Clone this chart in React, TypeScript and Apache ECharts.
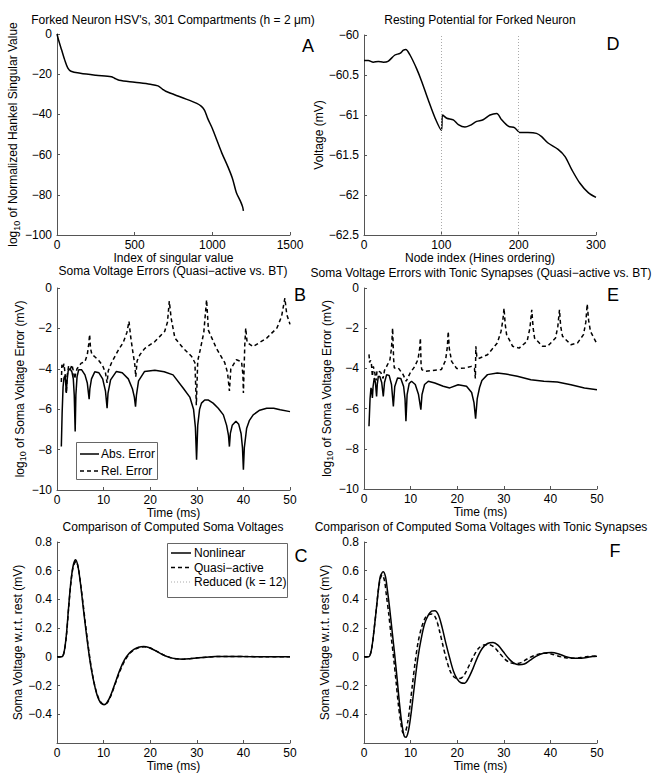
import React, { useEffect, useRef } from "react";
import * as echarts from "echarts";

// ---------- DATA ----------
// Panel A: log10 normalized Hankel singular values
const hsvA: number[][] = [
  [0, 0], [10, -3], [30, -8], [50, -13], [70, -17], [90, -18.5], [150, -19.5], [250, -20.5],
  [350, -21.3], [370, -22], [400, -23], [500, -24], [600, -25], [650, -25.8], [680, -27.5],
  [700, -28.5], [800, -31.5], [900, -34.5], [930, -36], [950, -38], [970, -42], [1000, -47],
  [1030, -53], [1060, -59], [1100, -66], [1130, -72], [1155, -79], [1180, -83], [1195, -86], [1200, -88],
];
// Panel D: resting potential
const restD: number[][] = [
  [0, -60.32], [5.6, -60.32], [12, -60.34], [18.5, -60.33], [25, -60.34], [31, -60.33], [40, -60.25],
  [46.5, -60.23], [51, -60.19], [54, -60.18], [59.5, -60.25], [68, -60.42], [74.6, -60.58], [83, -60.81],
  [92, -61.04], [100, -61.19], [101.7, -61.0], [107, -61.04], [115.5, -61.06], [122, -61.12],
  [130.6, -61.15], [137, -61.13], [145.7, -61.08], [154, -61.06], [163, -61.0], [171.6, -60.98],
  [178, -61.06], [186.6, -61.14], [195, -61.16], [201.7, -61.22], [212, -61.22], [223, -61.23],
  [229.7, -61.27], [238, -61.35], [251, -61.43], [260, -61.52], [268.5, -61.68], [279, -61.85],
  [290, -61.97], [300, -62.03],
];
const dGridLines = [100, 200];
// Panel B: soma voltage errors
const absErrB: number[][] = [
  [0.93, -7.85], [1.1, -6.2], [1.3, -4.9], [1.5, -4.45], [1.7, -4.35], [1.85, -4.6], [2.0, -5.2], [2.15, -4.6],
  [2.4, -4.1], [2.8, -4.0], [3.2, -4.15], [3.5, -4.5], [3.7, -5.3], [3.9, -7.1], [4.05, -5.3], [4.3, -4.4],
  [4.65, -4.05], [5.3, -4.05], [6.0, -4.3], [6.5, -4.7], [6.75, -5.2], [6.9, -5.5], [7.05, -5.0], [7.4, -4.5],
  [8.1, -4.15], [9.0, -4.2], [9.8, -4.5], [10.4, -5.1], [10.75, -5.95], [10.95, -5.2], [11.5, -4.55],
  [12.75, -4.13], [14, -4.2], [15.3, -4.5], [16.2, -5.0], [16.6, -5.4], [16.85, -5.87], [17.05, -5.3],
  [17.5, -4.6], [18.8, -4.13], [21, -4.07], [23, -4.15], [24.9, -4.3], [27.1, -4.96], [28.5, -5.4],
  [29.3, -6.0], [29.7, -6.9], [29.95, -8.5], [30.2, -6.8], [30.6, -6.0], [31.0, -5.7], [31.7, -5.54],
  [32.5, -5.55], [33.5, -5.7], [34.6, -5.95], [35.7, -6.28], [36.4, -6.8], [36.8, -7.3], [37.0, -7.85],
  [37.2, -7.2], [37.6, -6.8], [38.4, -6.6], [39.0, -6.75], [39.5, -7.2], [39.8, -7.9], [40.0, -9.0],
  [40.2, -7.9], [40.7, -6.94], [41.3, -6.55], [42.1, -6.28], [43.5, -6.05], [45, -5.95], [46.5, -5.95],
  [47.9, -6.03], [50, -6.12],
];
const relErrB: number[][] = [
  [0.93, -4.65], [1.05, -3.8], [1.3, -3.95], [1.5, -3.75], [1.8, -4.4], [2.0, -5.2], [2.2, -4.3], [2.5, -3.85],
  [2.9, -4.0], [3.2, -3.8], [3.5, -4.1], [3.8, -4.5], [3.95, -4.3], [4.3, -4.0], [5.2, -3.72], [6.0, -3.65],
  [6.5, -3.3], [6.8, -2.8], [7.0, -2.3], [7.2, -3.0], [7.5, -3.3], [8.1, -3.4], [9.0, -3.6], [9.8, -3.85],
  [10.4, -4.2], [10.75, -4.7], [11.0, -4.1], [11.7, -3.7], [13.1, -3.1], [14.2, -2.7], [15.0, -2.2],
  [15.45, -1.65], [15.8, -2.4], [16.3, -3.2], [16.7, -3.8], [16.9, -4.4], [17.2, -3.6], [17.8, -3.3],
  [18.8, -3.0], [21, -2.65], [23.1, -2.15], [23.7, -1.7], [24.1, -0.65], [24.5, -1.5], [25.3, -2.48],
  [27.1, -2.98], [28.9, -3.39], [29.6, -3.7], [29.9, -5.8], [30.2, -3.6], [30.7, -3.1], [31.5, -2.2],
  [32.1, -0.58], [32.5, -2.1], [34.2, -2.98], [36.0, -3.7], [36.6, -4.2], [37.0, -5.1], [37.3, -4.0],
  [38.5, -3.55], [39.6, -3.65], [39.9, -4.3], [40.0, -5.2], [40.3, -2.8], [40.5, -1.98], [40.8, -2.7],
  [42.1, -2.9], [45, -2.48], [47.2, -1.98], [48.2, -1.4], [48.9, -0.5], [49.3, -1.3], [50, -1.8],
];
// Panel E: errors with tonic synapses
const absErrE: number[][] = [
  [1.07, -6.88], [1.3, -5.5], [1.5, -4.97], [1.65, -5.1], [1.8, -5.47], [1.95, -4.9], [2.2, -4.48], [2.45, -4.7],
  [2.7, -5.39], [2.85, -4.8], [3.07, -4.4], [3.4, -4.4], [3.8, -4.7], [4.14, -5.39], [4.4, -4.7], [4.86, -4.31],
  [5.4, -4.35], [5.9, -4.8], [6.3, -5.89], [6.6, -4.9], [7.2, -4.48], [7.9, -4.5], [8.5, -4.9], [8.8, -5.5],
  [9.0, -6.63], [9.25, -5.3], [9.7, -4.75], [10.2, -4.64], [11.0, -4.8], [11.7, -5.3], [12.2, -6.05],
  [12.45, -5.3], [13.0, -4.8], [13.8, -4.64], [15.2, -4.73], [17, -4.89], [18.4, -4.97], [20.2, -4.81],
  [22, -4.89], [23.1, -5.2], [23.6, -5.7], [23.95, -6.5], [24.3, -5.5], [24.8, -4.95], [25.3, -4.6],
  [26.5, -4.31], [28.6, -4.23], [30.4, -4.28], [32.9, -4.39], [35.8, -4.56], [38.6, -4.64], [41.5, -4.68],
  [44.4, -4.81], [47.3, -4.97], [50, -5.06],
];
const relErrE: number[][] = [
  [1.07, -3.3], [1.2, -3.7], [1.4, -3.6], [1.6, -3.8], [1.8, -4.4], [2.0, -3.9], [2.3, -4.2], [2.6, -4.6],
  [2.8, -4.1], [3.2, -4.15], [3.6, -4.2], [4.1, -4.5], [4.4, -4.1], [4.86, -3.9], [5.57, -3.57], [5.9, -3.0],
  [6.14, -1.99], [6.35, -3.5], [6.5, -3.98], [7.36, -3.98], [8.4, -4.31], [9.05, -4.64], [9.9, -4.23],
  [10.9, -3.9], [11.6, -3.55], [11.95, -3.0], [12.1, -2.49], [12.25, -3.8], [12.4, -4.06], [13.1, -4.15],
  [14.5, -4.11], [16.6, -4.06], [17.5, -3.6], [17.9, -2.9], [18.07, -2.16], [18.3, -3.0], [18.8, -3.65],
  [19.9, -4.01], [21.6, -3.98], [23.1, -3.9], [23.7, -4.0], [23.9, -4.5], [24.0, -2.9], [24.2, -3.4],
  [24.5, -3.52], [26.5, -3.32], [28.6, -2.74], [29.4, -2.16], [29.8, -1.6], [30.05, -1.0], [30.3, -1.8],
  [30.6, -2.32], [31.9, -2.9], [33.3, -2.99], [35, -2.65], [35.6, -2.0], [36.0, -1.08], [36.3, -2.0],
  [36.6, -2.49], [38.3, -2.9], [39.4, -2.9], [41.1, -2.49], [41.6, -1.9], [41.95, -1.08], [42.2, -1.9],
  [42.6, -2.4], [44.4, -2.82], [45.8, -2.74], [47.1, -2.32], [47.6, -1.7], [47.9, -0.8], [48.2, -1.6],
  [48.6, -2.16], [50, -2.79],
];
// Panel C: computed soma voltages
const nonlinC: number[][] = [
  [0, 0], [1.0, 0], [1.5, 0.03], [2.0, 0.15], [2.5, 0.35], [3.0, 0.53], [3.5, 0.64], [4.0, 0.677],
  [4.5, 0.63], [5.0, 0.52], [5.5, 0.38], [6.0, 0.24], [6.5, 0.11], [7.0, -0.01], [7.5, -0.11], [8.0, -0.19],
  [8.5, -0.255], [9.0, -0.3], [9.5, -0.325], [10.1, -0.333], [10.7, -0.32], [11.5, -0.27], [12.5, -0.18],
  [13.5, -0.09], [14.5, -0.02], [15.5, 0.025], [16.5, 0.052], [17.5, 0.067], [18.6, 0.072], [19.7, 0.065],
  [21, 0.045], [22.5, 0.018], [24, -0.002], [25.5, -0.013], [27, -0.016], [28.5, -0.013], [30, -0.008],
  [32, -0.002], [34, 0.002], [37, 0.003], [40, 0.002], [45, 0.001], [50, 0],
];
const quasiC: number[][] = [
  [0, 0], [1.0, 0], [1.5, 0.03], [2.0, 0.14], [2.5, 0.34], [3.0, 0.52], [3.5, 0.63], [4.1, 0.665],
  [4.6, 0.615], [5.1, 0.5], [5.6, 0.37], [6.1, 0.23], [6.6, 0.1], [7.1, -0.02], [7.6, -0.12], [8.1, -0.2],
  [8.6, -0.26], [9.1, -0.3], [9.7, -0.325], [10.3, -0.33], [10.9, -0.315], [11.7, -0.26], [12.7, -0.17],
  [13.7, -0.085], [14.7, -0.018], [15.7, 0.027], [16.7, 0.052], [17.7, 0.066], [18.8, 0.07], [19.9, 0.063],
  [21.2, 0.043], [22.7, 0.016], [24.2, -0.004], [25.7, -0.014], [27.2, -0.016], [28.7, -0.012],
  [30.2, -0.007], [32, -0.002], [34, 0.002], [37, 0.003], [40, 0.002], [45, 0.001], [50, 0],
];
const reducedC: number[][] = [
  [0, 0], [1.0, 0], [1.5, 0.03], [2.0, 0.14], [2.5, 0.34], [3.0, 0.52], [3.5, 0.63], [4.1, 0.664],
  [4.6, 0.614], [5.1, 0.5], [5.6, 0.37], [6.1, 0.23], [6.6, 0.1], [7.1, -0.02], [7.6, -0.12], [8.1, -0.2],
  [8.6, -0.26], [9.1, -0.3], [9.7, -0.324], [10.3, -0.329], [10.9, -0.314], [11.7, -0.26], [12.7, -0.17],
  [13.7, -0.085], [14.7, -0.018], [15.7, 0.027], [16.7, 0.052], [17.7, 0.066], [18.8, 0.07], [19.9, 0.063],
  [21.2, 0.043], [22.7, 0.016], [24.2, -0.004], [25.7, -0.014], [27.2, -0.016], [28.7, -0.012],
  [30.2, -0.007], [32, -0.002], [34, 0.002], [37, 0.003], [40, 0.002], [45, 0.001], [50, 0],
];
// Panel F: computed soma voltages with tonic synapses
const nonlinF: number[][] = [
  [0, 0], [1.0, 0], [1.6, 0.05], [2.2, 0.2], [2.7, 0.35], [3.1, 0.47], [3.5, 0.56], [4.1, 0.592], [4.6, 0.56],
  [5.0, 0.47], [5.5, 0.34], [6.0, 0.19], [6.6, 0.01], [7.1, -0.15], [7.6, -0.32], [8.1, -0.46], [8.6, -0.55],
  [9.0, -0.56], [9.5, -0.52], [10.0, -0.42], [10.5, -0.29], [11.0, -0.15], [11.6, 0.0], [12.3, 0.13],
  [13.0, 0.23], [13.8, 0.29], [14.5, 0.318], [15.2, 0.322], [16.0, 0.29], [16.8, 0.2], [17.6, 0.09],
  [18.4, -0.01], [19.2, -0.1], [20.0, -0.155], [20.8, -0.18], [21.6, -0.183], [22.4, -0.15], [23.4, -0.08],
  [24.4, 0.0], [25.4, 0.06], [26.5, 0.093], [27.7, 0.1], [28.8, 0.08], [29.9, 0.035], [31, -0.01],
  [32, -0.04], [33.2, -0.055], [34.4, -0.05], [35.6, -0.025], [37, 0.005], [38.5, 0.025], [40.2, 0.03],
  [41.8, 0.02], [43.2, 0.003], [44.6, -0.008], [46, -0.01], [47.5, -0.006], [49, 0.002], [50, 0.005],
];
const quasiF: number[][] = [
  [0, 0], [1.0, 0], [1.6, 0.05], [2.2, 0.2], [2.7, 0.35], [3.1, 0.47], [3.5, 0.545], [3.9, 0.57], [4.4, 0.53],
  [4.8, 0.43], [5.3, 0.3], [5.8, 0.15], [6.4, -0.02], [6.9, -0.18], [7.4, -0.34], [7.9, -0.46], [8.4, -0.53],
  [8.9, -0.52], [9.4, -0.45], [9.9, -0.33], [10.4, -0.19], [11.0, -0.03], [11.6, 0.1], [12.3, 0.2],
  [13.1, 0.27], [13.9, 0.295], [14.6, 0.298], [15.4, 0.27], [16.2, 0.18], [17.0, 0.07], [17.7, -0.02],
  [18.5, -0.1], [19.3, -0.14], [20.2, -0.152], [21.0, -0.145], [21.8, -0.11], [22.7, -0.05], [23.6, 0.01],
  [24.6, 0.06], [25.7, 0.083], [26.9, 0.085], [28.0, 0.065], [29.1, 0.025], [30.2, -0.015], [31.3, -0.04],
  [32.5, -0.048], [33.7, -0.04], [35, -0.015], [36.4, 0.008], [37.8, 0.022], [39.2, 0.025], [40.6, 0.016],
  [42, 0.002], [43.5, -0.008], [45, -0.01], [46.5, -0.005], [48, 0.002], [50, 0.006],
];
const reducedF: number[][] = [
  [0, 0], [1.0, 0], [1.6, 0.05], [2.2, 0.2], [2.7, 0.35], [3.1, 0.47], [3.5, 0.55], [4.0, 0.575], [4.5, 0.53],
  [4.9, 0.43], [5.4, 0.29], [5.9, 0.14], [6.5, -0.03], [7.0, -0.19], [7.5, -0.35], [8.0, -0.47], [8.5, -0.535],
  [9.0, -0.525], [9.5, -0.45], [10.0, -0.33], [10.5, -0.19], [11.1, -0.03], [11.7, 0.1], [12.4, 0.2],
  [13.2, 0.27], [14.0, 0.298], [14.7, 0.3], [15.5, 0.27], [16.3, 0.18], [17.1, 0.07], [17.8, -0.02],
  [18.6, -0.1], [19.4, -0.14], [20.3, -0.155], [21.1, -0.147], [21.9, -0.11], [22.8, -0.05], [23.7, 0.01],
  [24.7, 0.06], [25.8, 0.084], [27.0, 0.086], [28.1, 0.066], [29.2, 0.026], [30.3, -0.015], [31.4, -0.04],
  [32.6, -0.049], [33.8, -0.04], [35.1, -0.015], [36.5, 0.008], [37.9, 0.022], [39.3, 0.025], [40.7, 0.016],
  [42.1, 0.002], [43.6, -0.008], [45.1, -0.01], [46.6, -0.005], [48.1, 0.002], [50, 0.006],
];

const titles = [
  "Forked Neuron HSV's, 301 Compartments (h = 2 \u03bcm)",
  "Resting Potential for Forked Neuron",
  "Soma Voltage Errors (Quasi\u2212active vs. BT)",
  "Soma Voltage Errors with Tonic Synapses (Quasi\u2212active vs. BT)",
  "Comparison of Computed Soma Voltages",
  "Comparison of Computed Soma Voltages with Tonic Synapses",
];
const panelLetters = ["A", "D", "B", "E", "C", "F"];
const legendNamesB = ["Abs. Error", "Rel. Error"];
const legendNamesC = ["Nonlinear", "Quasi\u2212active", "Reduced (k = 12)"];

// ---------- LAYOUT ----------
const FONT = "'Liberation Sans', Arial, Helvetica, sans-serif";
const AX = "#555";
const grids = [
  { left: 57, top: 34, width: 233, height: 201 },   // A
  { left: 364, top: 35, width: 232, height: 200 },  // D
  { left: 57, top: 288, width: 233, height: 202 },  // B
  { left: 364, top: 288, width: 233, height: 201 }, // E
  { left: 57, top: 542, width: 233, height: 201 },  // C
  { left: 364, top: 542, width: 233, height: 201 }, // F
];
const titlePos = [[173, 20], [480, 20], [173, 271], [481, 273], [173, 527], [481, 527]];
const letterPos = [[308, 46], [613, 44], [300, 295], [613, 295], [301, 556], [615, 551]];

const fmt = (v: number) => String(Math.round(v * 1000) / 1000).replace("-", "\u2212");

const richName = {
  n: { fontSize: 12, lineHeight: 14, verticalAlign: "top", fontFamily: FONT, color: "#000" },
  s: { fontSize: 9, lineHeight: 9, verticalAlign: "bottom", padding: [7, 0, 0, 0], fontFamily: FONT, color: "#000" },
};

function xAx(gridIndex: number, min: number, max: number, interval: number, name: string, nameGap = 15) {
  return {
    type: "value", gridIndex, min, max, interval, name, nameLocation: "middle", nameGap,
    nameTextStyle: { fontSize: 12, color: "#000", fontFamily: FONT },
    axisLine: { show: true, onZero: false, lineStyle: { color: AX, width: 1 } },
    axisTick: { show: true, inside: true, length: 3, lineStyle: { color: AX } },
    axisLabel: { fontSize: 12, color: "#000", fontFamily: FONT, margin: 4, formatter: fmt },
    splitLine: { show: false },
  };
}
function yAx(gridIndex: number, min: number, max: number, interval: number, name: string, nameGap: number, hideMin = false) {
  return {
    type: "value", gridIndex, min, max, interval, name, nameLocation: "middle", nameGap,
    nameTextStyle: { fontSize: 12, color: "#000", fontFamily: FONT, rich: richName },
    axisLine: { show: true, onZero: false, lineStyle: { color: AX, width: 1 } },
    axisTick: { show: true, inside: true, length: 3, lineStyle: { color: AX } },
    axisLabel: { fontSize: 12, color: "#000", fontFamily: FONT, margin: 5, formatter: fmt, showMinLabel: !hideMin },
    splitLine: { show: false },
  };
}

function line(name: string, idx: number, data: number[][], type: any, color = "#000", width = 1.5, smooth: any = false) {
  return {
    type: "line", name, xAxisIndex: idx, yAxisIndex: idx, data, symbol: "none", showSymbol: false,
    smooth, silent: true, clip: true,
    lineStyle: { color, width, type },
    itemStyle: { color },
  };
}

const DASH = [4, 3];
const DOT = [1, 2];

function legendBox(x: number, y: number, w: number, h: number, items: { name: string; dash: number[] | null; color: string; width: number; y: number }[], lx1: number, lx2: number, tx: number) {
  const els: any[] = [
    { type: "rect", z: 100, silent: true, shape: { x: x + 0.5, y: y + 0.5, width: w, height: h }, style: { fill: "#fff", stroke: "#666", lineWidth: 1 } },
  ];
  items.forEach((it) => {
    els.push({
      type: "line", z: 101, silent: true,
      shape: { x1: lx1, y1: it.y, x2: lx2, y2: it.y },
      style: { stroke: it.color, lineWidth: it.width, lineDash: it.dash || undefined },
    });
    els.push({
      type: "text", z: 101, silent: true, x: tx, y: it.y,
      style: { text: it.name, fontSize: 12, fontFamily: FONT, fill: "#000", align: "left", verticalAlign: "middle", textAlign: "left", textVerticalAlign: "middle" },
    });
  });
  return els;
}

export default function App() {
  const ref = useRef<HTMLDivElement>(null);
  useEffect(() => {
    if (!ref.current) return;
    const chart = echarts.init(ref.current, undefined, { renderer: "svg" });
    const option: any = {
      animation: false,
      backgroundColor: "#fff",
      textStyle: { fontFamily: FONT },
      grid: grids.map((g) => ({ ...g, containLabel: false })),
      xAxis: [
        xAx(0, 0, 1500, 500, "Index of singular value", 13),
        xAx(1, 0, 300, 100, "Node index (Hines ordering)", 13),
        xAx(2, 0, 50, 10, "Time (ms)"),
        xAx(3, 0, 50, 10, "Time (ms)"),
        xAx(4, 0, 50, 10, "Time (ms)"),
        xAx(5, 0, 50, 10, "Time (ms)"),
      ],
      yAxis: [
        yAx(0, -100, 0, 20, "{n|log}{s|10}{n| of Normalized Hankel Singular Value}", 35),
        yAx(1, -62.5, -60, 0.5, "{n|Voltage (mV)}", 34),
        yAx(2, -10, 0, 2, "{n|log}{s|10}{n| of Soma Voltage Error (mV)}", 26),
        yAx(3, -10, 0, 2, "{n|log}{s|10}{n| of Soma Voltage Error (mV)}", 26),
        yAx(4, -0.6, 0.8, 0.2, "{n|Soma Voltage w.r.t. rest (mV)}", 28, true),
        yAx(5, -0.6, 0.8, 0.2, "{n|Soma Voltage w.r.t. rest (mV)}", 26, true),
      ],
      series: [
        line("HSV", 0, hsvA, "solid", "#000", 1.5, 0.3),
        {
          ...line("Resting", 1, restD, "solid", "#000", 1.5, 0.3),
          markLine: {
            silent: true, symbol: "none", label: { show: false },
            lineStyle: { color: "#aaa", type: DOT, width: 1 },
            data: dGridLines.map((v) => ({ xAxis: v })),
          },
        },
        line(legendNamesB[0], 2, absErrB, "solid"),
        line(legendNamesB[1], 2, relErrB, DASH),
        line("Abs E", 3, absErrE, "solid"),
        line("Rel E", 3, relErrE, DASH),
        line(legendNamesC[2], 4, reducedC, DOT, "#aaa", 1, 0.3),
        line(legendNamesC[1], 4, quasiC, DASH, "#000", 1.5, 0.3),
        line(legendNamesC[0], 4, nonlinC, "solid", "#000", 1.5, 0.3),
        line("Reduced F", 5, reducedF, DOT, "#aaa", 1, 0.3),
        line("Quasi F", 5, quasiF, DASH, "#000", 1.5, 0.3),
        line("Nonlinear F", 5, nonlinF, "solid", "#000", 1.5, 0.3),
      ],
      graphic: [
        ...titles.map((t, i) => ({
          type: "text", x: titlePos[i][0], y: titlePos[i][1], silent: true,
          style: { text: t, fontSize: 12, fontFamily: FONT, fill: "#000", align: "center", verticalAlign: "middle", textAlign: "center", textVerticalAlign: "middle" },
        })),
        ...panelLetters.map((t, i) => ({
          type: "text", x: letterPos[i][0], y: letterPos[i][1], silent: true,
          style: { text: t, fontSize: 18, fontFamily: FONT, fill: "#000", align: "center", verticalAlign: "middle", textAlign: "center", textVerticalAlign: "middle" },
        })),
        ...legendBox(76, 442, 81, 37, [
          { name: legendNamesB[0], dash: null, color: "#000", width: 1.5, y: 454 },
          { name: legendNamesB[1], dash: DASH, color: "#000", width: 1.5, y: 471 },
        ], 80, 99, 101),
        ...legendBox(167, 543, 120, 54, [
          { name: legendNamesC[0], dash: null, color: "#000", width: 1.5, y: 553 },
          { name: legendNamesC[1], dash: DASH, color: "#000", width: 1.5, y: 567.5 },
          { name: legendNamesC[2], dash: DOT, color: "#aaa", width: 1, y: 582 },
        ], 171, 191, 194),
      ],
    };
    chart.setOption(option);
    return () => chart.dispose();
  }, []);
  return (
    <div
      ref={ref}
      style={{ position: "absolute", left: 0, top: 0, width: 664, height: 782, background: "#fff" }}
    />
  );
}
